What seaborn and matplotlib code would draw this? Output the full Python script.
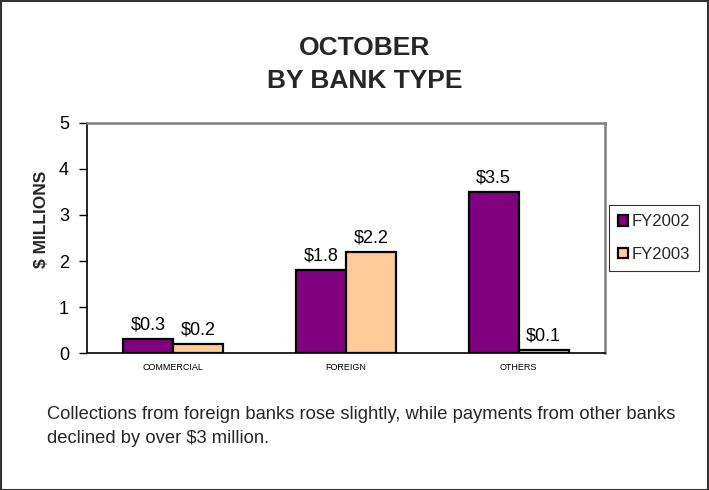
import matplotlib
matplotlib.use("Agg")
import matplotlib.pyplot as plt
import matplotlib.patches as mpatches
import seaborn as sns
import pandas as pd
import numpy as np

categories = ["COMMERCIAL", "FOREIGN", "OTHERS"]
series_names = ["FY2002", "FY2003"]
fy2002 = [0.3, 1.8, 3.5]
fy2003 = [0.2, 2.2, 0.07]
yticks = [0, 1, 2, 3, 4, 5]
colors = ["#800080", "#FFCC99"]

df = pd.DataFrame({
    "category": categories * 2,
    "series": [series_names[0]] * 3 + [series_names[1]] * 3,
    "value": fy2002 + fy2003,
})

sns.set_theme(style="white")
plt.rcParams["font.family"] = ["Liberation Sans", "DejaVu Sans"]

fig = plt.figure(figsize=(7.09, 4.90), dpi=100)
W, H = 709, 490
ax = fig.add_axes([87 / W, 1 - 353 / H, 518 / W, 230 / H])

sns.barplot(data=df, x="category", y="value", hue="series", order=categories,
            hue_order=series_names, palette=colors, width=0.58, ax=ax,
            edgecolor="black", linewidth=1.6, saturation=1, legend=True)

for cont in ax.containers:
    vals = [b.get_height() for b in cont]
    ax.bar_label(cont, labels=[f"${v:.1f}" for v in vals], padding=4,
                 fontsize=13, color="black")

ax.set_xlim(-0.5, 2.5)
ax.set_ylim(0, 5)
ax.set_yticks(yticks)
ax.set_yticklabels([str(t) for t in yticks], fontsize=13)
ax.set_xticks(range(len(categories)))
ax.set_xticklabels(categories, fontsize=6.5)
ax.set_xticks(np.arange(-0.5, 3, 1), minor=True)
ax.tick_params(axis="x", which="major", length=0, pad=7, colors="black")
ax.tick_params(axis="x", which="minor", length=5, width=1, color="black", direction="out")
ax.tick_params(axis="y", length=6, width=1, color="black", direction="out", pad=7,
               left=True, labelcolor="black")
ax.set_xlabel("")
ax.set_ylabel("")
fig.text(42 / W, 1 - 219 / H, "$ MILLIONS", rotation=90, ha="center", va="center",
         fontsize=12.5, fontweight="bold")

for s in ["left", "bottom"]:
    ax.spines[s].set_color("black")
    ax.spines[s].set_linewidth(1.2)
for s in ["top", "right"]:
    ax.spines[s].set_visible(True)
    ax.spines[s].set_color("#808080")
    ax.spines[s].set_linewidth(1.8)

handles, labels = ax.get_legend_handles_labels()
ax.get_legend().remove()
leg = fig.legend(handles, labels, loc="upper left",
                 bbox_to_anchor=(609 / W, 1 - 205 / H), fontsize=12,
                 frameon=True, fancybox=False, handlelength=0.6, handleheight=0.6,
                 handletextpad=0.2, labelspacing=1.05, borderpad=0.55,
                 borderaxespad=0)
leg.get_frame().set_edgecolor("black")
leg.get_frame().set_linewidth(0.8)

fig.text(365 / W, 1 - 55 / H, "OCTOBER", ha="center", va="baseline",
         fontsize=19, fontweight="bold")
fig.text(365 / W, 1 - 88 / H, "BY BANK TYPE", ha="center", va="baseline",
         fontsize=19, fontweight="bold")

fig.text(47 / W, 1 - 419 / H, "Collections from foreign banks rose slightly, while payments from other banks",
         ha="left", va="baseline", fontsize=13.2)
fig.text(47 / W, 1 - 443 / H, "declined by over $3 million.",
         ha="left", va="baseline", fontsize=13.2)

fig.patches.append(mpatches.Rectangle((0.001, 0.001), 0.997, 0.997,
                                      transform=fig.transFigure, fill=False,
                                      edgecolor="#333333", linewidth=1.5))

fig.savefig("out.png", dpi=100)
